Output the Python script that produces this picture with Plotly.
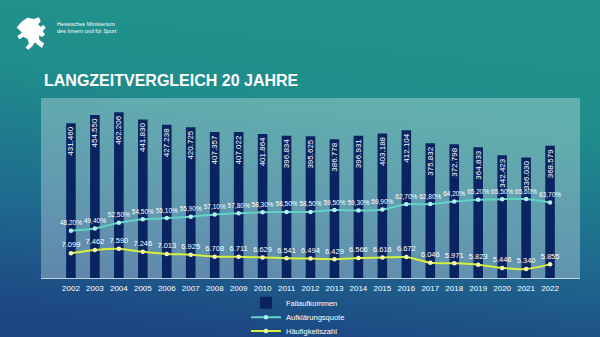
import base64
import plotly.graph_objects as go

years = [str(y) for y in range(2002, 2023)]
fallaufkommen = [431460, 454550, 462206, 441830, 427238, 420725, 407357, 407022, 401864, 396834,
                 395625, 386778, 396931, 403188, 412104, 375832, 372798, 364833, 342423, 336030, 368579]
aufklaerungsquote = [48.2, 49.4, 52.5, 54.5, 55.1, 55.9, 57.1, 57.8, 58.3, 58.5,
                     58.5, 59.5, 59.3, 59.9, 62.7, 62.8, 64.2, 65.2, 65.5, 65.6, 63.7]
haeufigkeitszahl = [7099, 7462, 7590, 7246, 7013, 6925, 6708, 6711, 6629, 6541,
                    6494, 6429, 6566, 6616, 6672, 6046, 5971, 5823, 5446, 5340, 5855]

W, H = 600, 337
ML, MR, MT, MB = 41, 20, 98, 59
PW, PH = W - ML - MR, H - MT - MB

FONT = "Liberation Sans, Arial, sans-serif"

bg_svg = (
    "<svg xmlns='http://www.w3.org/2000/svg' width='600' height='337' viewBox='0 0 600 337' "
    "preserveAspectRatio='none'>"
    "<defs><linearGradient id='g' x1='0.6' y1='0' x2='0.4' y2='1'>"
    "<stop offset='0' stop-color='#21938b'/>"
    "<stop offset='0.3' stop-color='#1f8d8c'/>"
    "<stop offset='0.68' stop-color='#1f6a8f'/>"
    "<stop offset='1' stop-color='#1d4682'/>"
    "</linearGradient></defs>"
    "<rect width='600' height='337' fill='url(#g)'/></svg>"
)
bg_uri = "data:image/svg+xml;base64," + base64.b64encode(bg_svg.encode()).decode()

lion_svg = (
    "<svg xmlns='http://www.w3.org/2000/svg' viewBox='0 0 92 102'>"
    "<path fill='white' d='M20,15 L35,5 L55,9 L70,4 L76,15 L68,25 L75,32 L85,27 L91,35 L82,45 "
    "L89,56 L80,63 L70,58 L72,72 L86,82 L80,96 L68,88 L58,79 L50,91 L38,101 L29,95 L40,82 "
    "L35,68 L22,62 L10,70 L4,60 L18,50 L10,41 L2,35 L10,25 Z'/></svg>"
)
lion_uri = "data:image/svg+xml;base64," + base64.b64encode(lion_svg.encode()).decode()


def px_x(px):
    return (px - ML) / PW


def px_y(py):
    return (H - MB - py) / PH


fig = go.Figure()

fig.add_trace(go.Bar(
    x=years, y=fallaufkommen, name="Fallaufkommen",
    marker=dict(color="#0a2462", line=dict(width=0)),
    width=0.4,
    texttemplate="%{y:,.0f}", textposition="inside", textangle=-90,
    insidetextanchor="end", constraintext="none",
    textfont=dict(color="white", size=8, family=FONT),
    legend="legend",
))

fig.add_trace(go.Scatter(
    x=years, y=aufklaerungsquote, name="Aufklärungsquote", yaxis="y2",
    mode="lines+markers+text", line=dict(color="#5fd3c6", width=2, shape="spline", smoothing=0.6),
    marker=dict(color="#b5efe8", size=4.5),
    texttemplate="%{y:.2f}%", textposition="top center",
    textfont=dict(color="white", size=6.5, family=FONT),
    legend="legend2",
))

fig.add_trace(go.Scatter(
    x=years, y=haeufigkeitszahl, name="Häufigkeitszahl", yaxis="y3",
    mode="lines+markers+text", line=dict(color="#d6f03c", width=2, shape="spline", smoothing=0.6),
    marker=dict(color="#f3fab0", size=4.5),
    texttemplate="%{y:,.0f}", textposition="top center",
    textfont=dict(color="white", size=7.5, family=FONT),
    legend="legend3",
))

leg_common = dict(
    orientation="v", xanchor="left", yanchor="middle",
    bgcolor="rgba(0,0,0,0)", font=dict(color="white", size=7.5, family=FONT),
    itemwidth=30,
)

fig.update_layout(
    width=W, height=H,
    margin=dict(l=ML, r=MR, t=MT, b=MB, pad=0, autoexpand=False),
    paper_bgcolor="#1e5a8a",
    plot_bgcolor="rgba(0,0,0,0)",
    separators=",.",
    showlegend=True,
    font=dict(family=FONT, color="white"),
    bargap=0.6,
    title=dict(
        text="<b>LANGZEITVERGLEICH 20 JAHRE</b>",
        x=44 / W, xanchor="left", xref="container",
        y=1 - 80 / H, yanchor="middle", yref="container",
        font=dict(size=16, color="white", family=FONT),
    ),
    xaxis=dict(
        type="category", showgrid=False, zeroline=False,
        showline=True, linecolor="rgba(220,232,238,0.85)", linewidth=1,
        ticks="", tickfont=dict(size=8, color="white", family=FONT),
        ticklabelstandoff=2,
    ),
    yaxis=dict(range=[0, 502000], visible=False, showgrid=False),
    yaxis2=dict(range=[22.2, 121.1], overlaying="y", visible=False, showgrid=False),
    yaxis3=dict(range=[4340, 24340], overlaying="y", visible=False, showgrid=False),
    legend=dict(x=px_x(246), y=px_y(302.7), **leg_common),
    legend2=dict(x=px_x(246), y=px_y(317.3), **leg_common),
    legend3=dict(x=px_x(246), y=px_y(331), **leg_common),
    images=[
        dict(source=bg_uri, xref="paper", yref="paper",
             x=px_x(0), y=px_y(0), sizex=W / PW, sizey=H / PH,
             xanchor="left", yanchor="top", sizing="stretch", layer="below"),
        dict(source=lion_uri, xref="paper", yref="paper",
             x=px_x(16), y=px_y(16), sizex=30 / PW, sizey=34 / PH,
             xanchor="left", yanchor="top", sizing="stretch", layer="above"),
    ],
    shapes=[
        dict(type="rect", xref="paper", yref="paper", x0=0, x1=1, y0=0, y1=1,
             fillcolor="rgba(255,255,255,0.3)", line=dict(width=0), layer="below"),
    ],
    annotations=[
        dict(text="Hessisches Ministerium<br>des Innern und für Sport",
             xref="paper", yref="paper", x=px_x(55), y=px_y(27),
             xanchor="left", yanchor="middle", align="left", showarrow=False,
             font=dict(size=5.5, color="white", family=FONT)),
    ],
)

fig.write_html("out.html")
